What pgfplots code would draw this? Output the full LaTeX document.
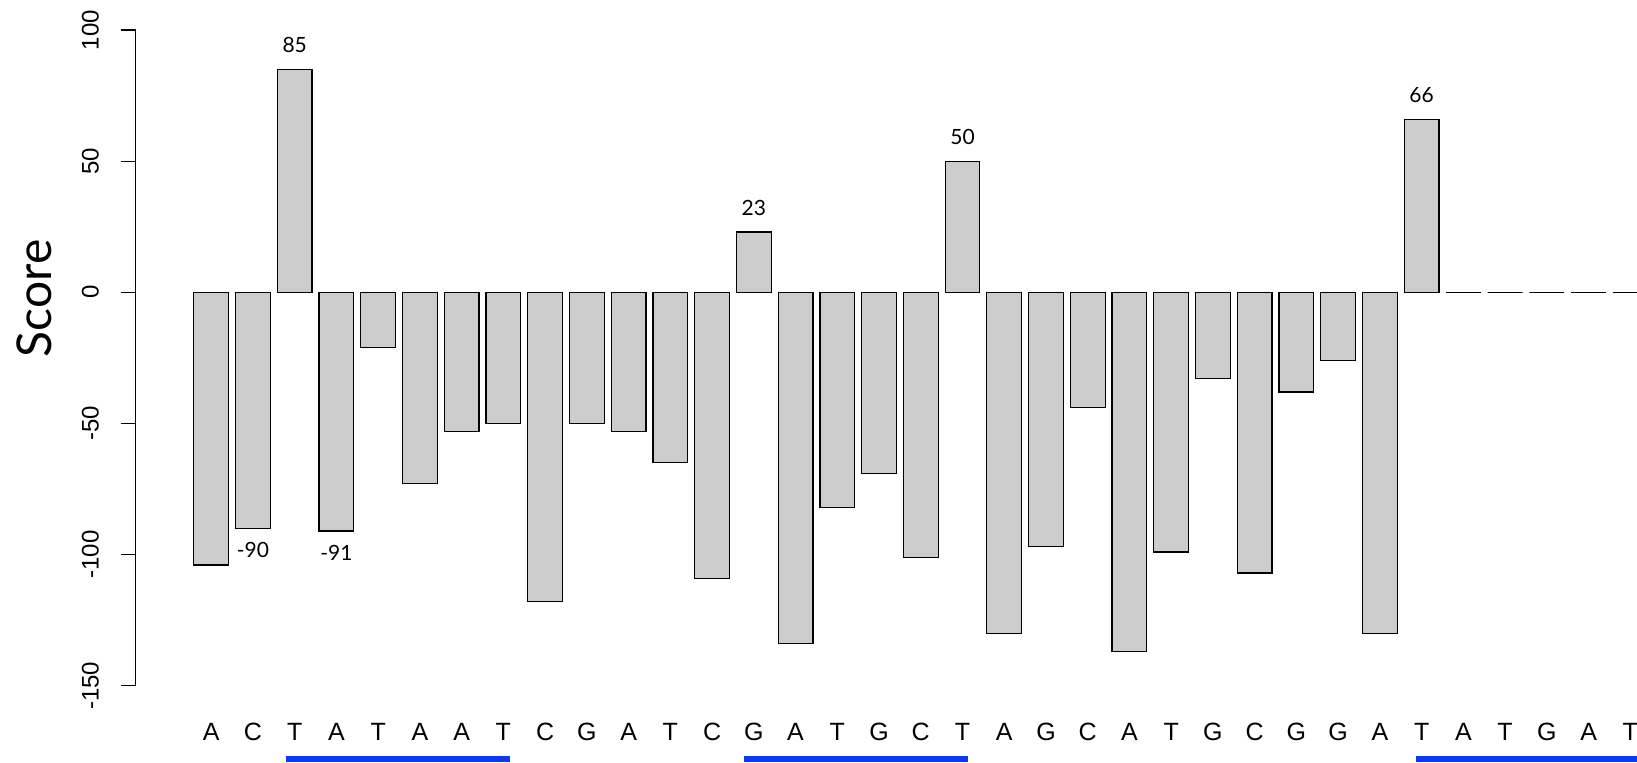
\documentclass[border=0pt]{standalone}
\usepackage{fontspec}
\setmainfont{Liberation Sans}
\newfontfamily\gill{Lato}
\usepackage{pgfplots}
\usepackage{pgfplotstable}
\pgfplotsset{compat=1.18}
\definecolor{barfill}{RGB}{204,204,204}
\definecolor{segblue}{RGB}{10,56,255}

\pgfplotstableread{
i val
0 -104
1 -90
2 85
3 -91
4 -21
5 -73
6 -53
7 -50
8 -118
9 -50
10 -53
11 -65
12 -109
13 23
14 -134
15 -82
16 -69
17 -101
18 50
19 -130
20 -97
21 -44
22 -137
23 -99
24 -33
25 -107
26 -38
27 -26
28 -130
29 66
30 0
31 0
32 0
33 0
34 0
}\scores

\begin{document}
\begin{tikzpicture}
\useasboundingbox (0,0) rectangle (818.5pt,381pt);
\begin{axis}[
  at={(67.85pt,38.15pt)}, anchor=south west,
  scale only axis,
  width=750.65pt, height=327.85pt,
  xmin=-1.809, xmax=34.16,
  ymin=-150, ymax=100,
  clip=false,
  axis y line*=left,
  axis x line*=bottom,
  x axis line style={draw=none},
  ytick={-150,-100,-50,0,50,100},
  xtick={0,...,34},
  xticklabels={A,C,T,A,T,A,A,T,C,G,A,T,C,G,A,T,G,C,T,A,G,C,A,T,G,C,G,G,A,T,A,T,G,A,T},
  x tick style={draw=none},
  y tick style={line width=0.6pt, black},
  tick align=outside,
  major tick length=7.5pt,
  y axis line style={line width=0.6pt},
  /pgf/number format/assume math mode=true,
  yticklabel shift=11pt,
  xticklabel shift=20pt,
  yticklabel style={rotate=90, anchor=base, font=\fontsize{12}{12}\selectfont},
  xticklabel style={anchor=base, font=\fontsize{12.5}{12.5}\selectfont},
  tick label style={black},
]
\addplot[ybar, bar width=0.833, bar shift=0pt, fill=barfill, draw=black, line width=0.6pt]
  table[x=i, y=val] {\scores};

\addplot[only marks, mark=none, nodes near coords, point meta=explicit symbolic,
  nodes near coords style={anchor=center, yshift=12pt, font=\gill\fontsize{10.5}{11}\selectfont}]
  coordinates {(2,85)[85] (13,23)[23] (18,50)[50] (29,66)[66]};
\addplot[only marks, mark=none, nodes near coords, point meta=explicit symbolic,
  nodes near coords style={anchor=center, yshift=-11pt, font=\gill\fontsize{10.5}{11}\selectfont}]
  coordinates {(1,-90)[-90] (3,-91)[-91]};

\addplot[segblue, line width=3pt, forget plot] coordinates {(1.79,-177.8) (7.16,-177.8)};
\addplot[segblue, line width=3pt, forget plot] coordinates {(12.77,-177.8) (18.12,-177.8)};
\addplot[segblue, line width=3pt, forget plot] coordinates {(28.86,-177.8) (35,-177.8)};

\node[rotate=90, anchor=base, font=\gill\fontsize{24}{24}\selectfont] at (axis cs:-3.82,-2.3) {Score};
\end{axis}
\end{tikzpicture}
\end{document}
